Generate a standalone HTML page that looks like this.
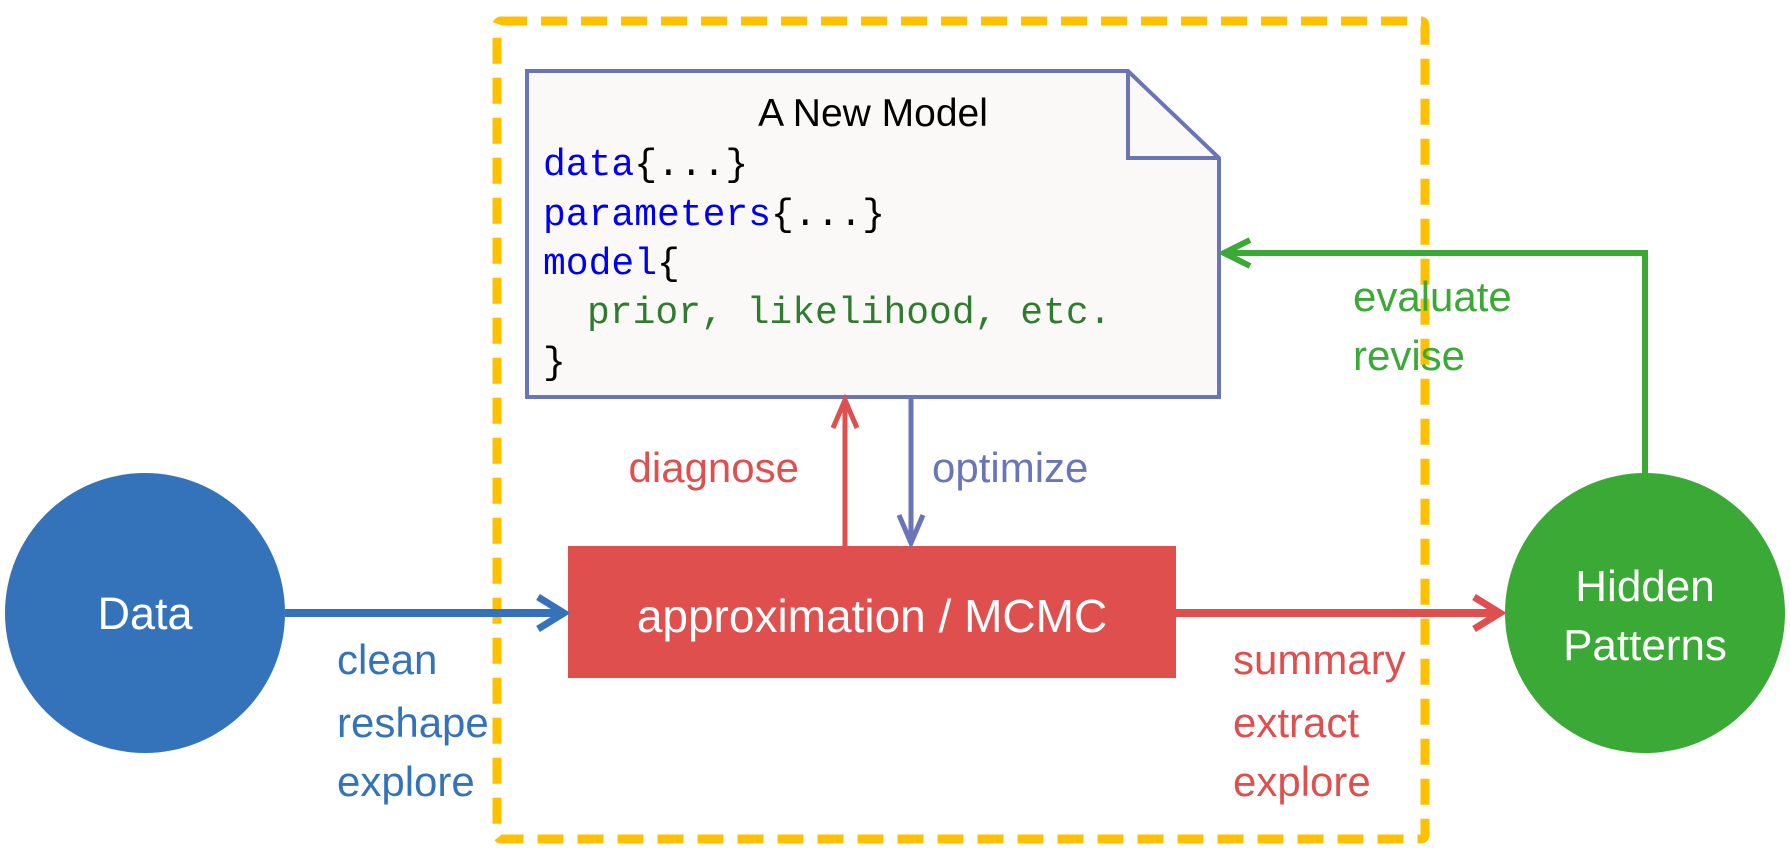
<!DOCTYPE html>
<html><head><meta charset="utf-8"><style>
html,body{margin:0;padding:0;background:#fff;}
svg{display:block;}
.s{font-family:"Liberation Sans",sans-serif;}
.m{font-family:"Liberation Mono",monospace;font-size:38px;}
</style></head><body>
<svg width="1790" height="864" viewBox="0 0 1790 864" xmlns="http://www.w3.org/2000/svg">
<rect x="497" y="21" width="928" height="818" fill="none" stroke="#FFC000" stroke-width="9" stroke-dasharray="26,14" rx="4"/>
<path d="M527,71 H1128 L1219,158 V397 H527 Z" fill="#FAF9F7" stroke="#6A75B8" stroke-width="4"/>
<path d="M1128,71 V158 H1219" fill="none" stroke="#6A75B8" stroke-width="4"/>
<text x="873" y="126" class="s" font-size="39" text-anchor="middle" fill="#000">A New Model</text>
<text x="543" y="175" class="m"><tspan fill="#0000EE">data</tspan><tspan fill="#000">{...}</tspan></text>
<text x="543" y="225" class="m"><tspan fill="#0000EE">parameters</tspan><tspan fill="#000">{...}</tspan></text>
<text x="543" y="274" class="m"><tspan fill="#0000EE">model</tspan><tspan fill="#000">{</tspan></text>
<text x="587" y="323" class="m" fill="#2E7D2E">prior, likelihood, etc.</text>
<text x="543" y="373" class="m" fill="#000">}</text>
<rect x="568" y="546" width="608" height="132" fill="#DF4F4E"/>
<text x="872" y="632" class="s" font-size="46" fill="#fff" text-anchor="middle">approximation / MCMC</text>
<circle cx="145" cy="613" r="140" fill="#3473BA"/>
<text x="145" y="629" class="s" font-size="45" fill="#fff" text-anchor="middle">Data</text>
<circle cx="1645" cy="613" r="140" fill="#3AA935"/>
<text x="1645" y="601" class="s" font-size="44" fill="#fff" text-anchor="middle">Hidden</text>
<text x="1645" y="660" class="s" font-size="44" fill="#fff" text-anchor="middle">Patterns</text>
<line x1="285" y1="613" x2="563" y2="613" stroke="#3473BA" stroke-width="8"/>
<path d="M538,597 L564,613 L538,629" fill="none" stroke="#3473BA" stroke-width="7"/>
<line x1="1176" y1="613" x2="1498" y2="613" stroke="#DF4F4E" stroke-width="8"/>
<path d="M1474,597 L1500,613 L1474,629" fill="none" stroke="#DF4F4E" stroke-width="7"/>
<line x1="845" y1="546" x2="845" y2="401" stroke="#DF4F4E" stroke-width="5"/>
<path d="M833,428 L845,400 L857,428" fill="none" stroke="#DF4F4E" stroke-width="5"/>
<line x1="911" y1="397" x2="911" y2="542" stroke="#6A75B8" stroke-width="5"/>
<path d="M899,515 L911,543 L923,515" fill="none" stroke="#6A75B8" stroke-width="5"/>
<path d="M1645,474 V253 H1225" fill="none" stroke="#3AA935" stroke-width="6"/>
<path d="M1250,240 L1224,253 L1250,266" fill="none" stroke="#3AA935" stroke-width="6"/>
<text x="799" y="482" class="s" font-size="42" fill="#DF4F4E" text-anchor="end">diagnose</text>
<text x="932" y="482" class="s" font-size="42" fill="#6A75B8">optimize</text>
<g class="s" font-size="42" fill="#3473BA">
<text x="337" y="674">clean</text><text x="337" y="737">reshape</text><text x="337" y="796">explore</text></g>
<g class="s" font-size="42" fill="#DF4F4E">
<text x="1233" y="674">summary</text><text x="1233" y="737">extract</text><text x="1233" y="796">explore</text></g>
<g class="s" font-size="42" fill="#3AA935">
<text x="1353" y="311">evaluate</text><text x="1353" y="370">revise</text></g>
</svg>
</body></html>
